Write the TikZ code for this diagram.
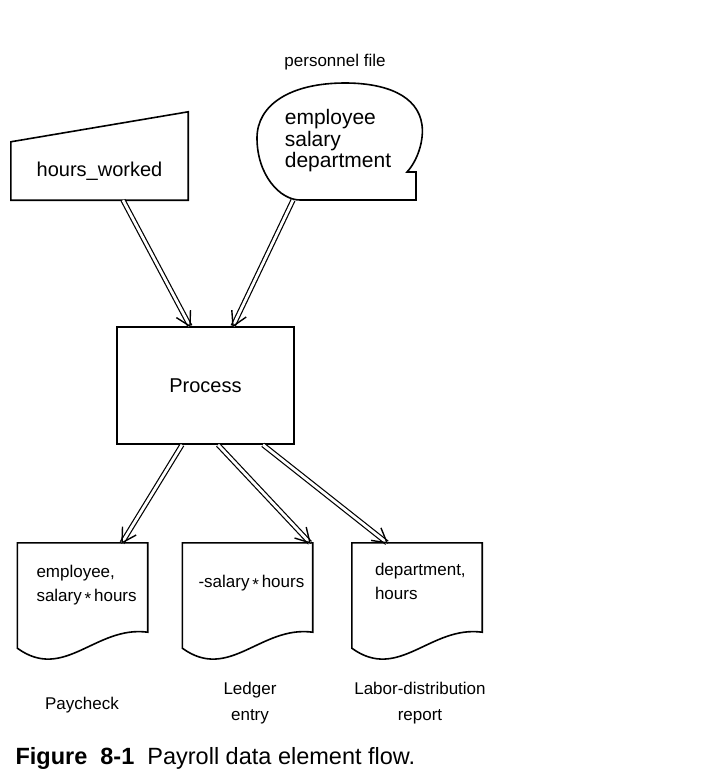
\documentclass[tikz,border=0pt]{standalone}
\usepackage{fontspec}
\setmainfont{Liberation Sans}
\usetikzlibrary{arrows.meta,positioning,decorations.markings}
\tikzset{
  outline/.style={line width=1.6pt},
  box/.style={draw, outline, minimum width=177pt, minimum height=117pt},
  doc/.style={minimum width=130pt, minimum height=89pt, inner sep=0pt},
  doctext/.style={font=\fontsize{17}{24}\selectfont, align=left, inner sep=0pt},
  caption/.style={font=\fontsize{17}{26}\selectfont, align=center},
  flow/.style={double, double distance=2.8pt, line width=1.2pt,
    postaction={decorate, decoration={markings, mark=at position 1 with
      {\draw[line width=1.4pt, line join=miter] (-14pt,8pt) -- (0,0) -- (-14pt,-8pt);}}}},
}
\begin{document}
\begin{tikzpicture}[x=1pt, y=-1pt]
  \useasboundingbox (0,0) rectangle (707,782);
  \fill[white] (0,0) rectangle (707,782);
  % inputs
  \node[minimum width=177pt, minimum height=58pt, font=\fontsize{20}{22}\selectfont] (hw) at (99.5,171) {hours\_worked};
  \draw[outline] (hw.south west) -- (hw.north west) -- ([yshift=30pt]hw.north east) -- (hw.south east) -- cycle;
  \node[font=\fontsize{17}{20}\selectfont] (pftitle) at (335,62) {personnel file};
  \node[minimum width=160pt, minimum height=118pt, align=left, font=\fontsize{21}{21.5}\selectfont] (pfile) at (338,141) {employee\\salary\\department};
  \draw[outline] (300,200) -- (416,200) -- (416,172) -- (407,172)
    .. controls (418,160) and (424,140) .. (422,125)
    .. controls (418,95) and (385,83) .. (345,83)
    .. controls (290,83) and (257,105) .. (257,138)
    .. controls (257,175) and (280,200) .. (300,200) -- cycle;
  % process
  \node[box, font=\fontsize{20}{22}\selectfont] (proc) at (205.5,385.5) {Process};
  % outputs
  \node[doc] (pay) at (82.5,587.5) {};
  \node[doc] (ledger) at (247.5,587.5) {};
  \node[doc] (labor) at (417,587.5) {};
  \foreach \d in {pay,ledger,labor}
    \draw[outline] ([yshift=-16pt]\d.south west) -- (\d.north west) -- (\d.north east) -- (\d.south east)
      .. controls +(-52pt,7pt) and +(47pt,-34pt) .. ([yshift=-16pt]\d.south west) -- cycle;
  \node[doctext, below right=22pt and 19pt of pay.north west] (paytext) {employee,\\salary\,\raisebox{-.35ex}{*}\,hours};
  \node[doctext, below right=32pt and 16pt of ledger.north west] (ledgertext) {-salary\,\raisebox{-.35ex}{*}\,hours};
  \node[doctext, below right=20pt and 23pt of labor.north west] (labortext) {department,\\hours};
  \node[caption] (paylabel) at (82,705) {Paycheck};
  \node[caption] (ledgerlabel) at (250,703) {Ledger\\entry};
  \node[caption] (laborlabel) at (420,703) {Labor-distribution\\report};
  % flows
  \draw[flow] ([xshift=23.5pt]hw.south) -- ([xshift=-15.5pt]proc.north);
  \draw[flow] ([xshift=-45pt]pfile.south) -- ([xshift=27.5pt]proc.north);
  \draw[flow] ([xshift=-23.5pt]proc.south) -- ([xshift=39.5pt]pay.north);
  \draw[flow] ([xshift=12.5pt]proc.south) -- ([xshift=62.5pt]ledger.north);
  \draw[flow] ([xshift=57.5pt]proc.south) -- ([xshift=-30pt]labor.north);
  \node[anchor=west, font=\fontsize{23.5}{26}\selectfont] (fig) at (12,758) {\textbf{Figure\ \ 8-1}\ \ Payroll data element flow.};
\end{tikzpicture}
\end{document}
